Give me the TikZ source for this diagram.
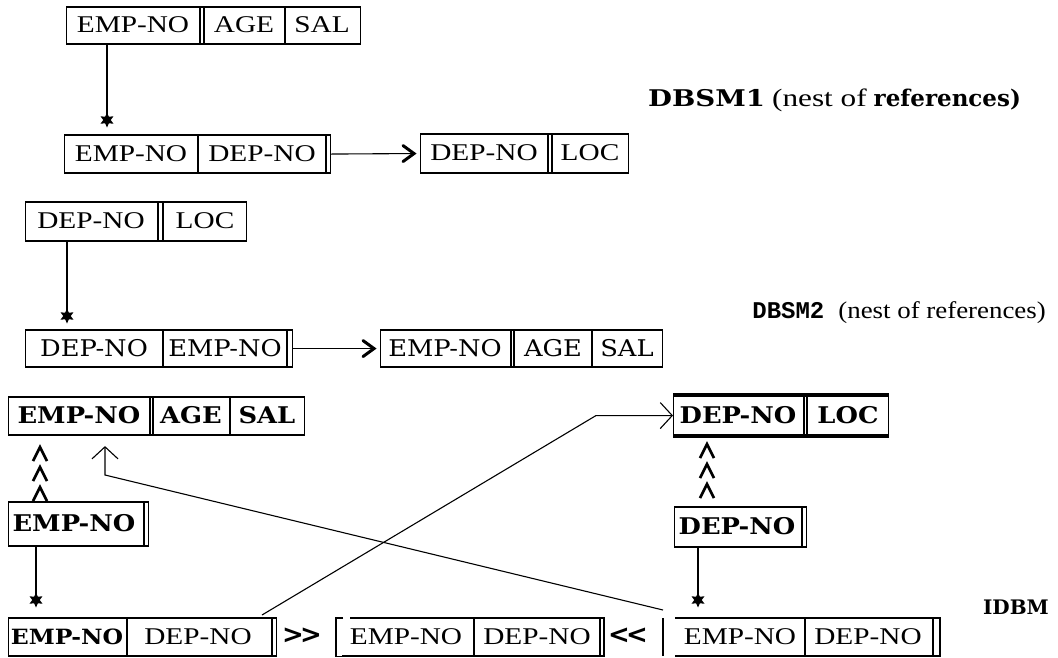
\documentclass[tikz,border=0pt]{standalone}
\usepackage{fontspec}
\usetikzlibrary{arrows.meta,shapes.geometric,calc}
\setmainfont{Liberation Serif}
\newfontfamily\tmf[FakeStretch=1.22]{Liberation Serif}
\newfontfamily\tmlab[FakeStretch=1.12]{Liberation Serif}
\newfontfamily\tmlabw[FakeStretch=1.25]{Liberation Serif}
\newfontfamily\csf[FakeStretch=1.12]{DejaVu Serif}
\newfontfamily\csl{DejaVu Serif}
\newfontfamily\cslw[FakeStretch=1.2]{DejaVu Serif}
\newfontfamily\monof{Liberation Mono}
\newfontfamily\sansb{DejaVu Sans}
\newcommand\cellbar[2]{\draw[divl] ($(#1.north west)+(#2,0)$) -- ($(#1.south west)+(#2,0)$);}
\newcommand\chevtip[1]{\draw[chevline] ($(#1)+(-17,-8)$) -- ($(#1)+(-6,0)$) -- ($(#1)+(-17,8)$);}
\tikzset{
 frame/.style={draw, line width=1.1pt, inner sep=0pt, anchor=north west},
 edge/.style={line width=2.2pt},
 divl/.style={line width=1.1pt},
 tt/.style={inner sep=0pt, font=\tmf\fontsize{24}{27}\selectfont},
 ct/.style={inner sep=0pt, font=\csf\fontsize{23}{26}\selectfont},
 cb/.style={inner sep=0pt, font=\csf\bfseries\fontsize{23}{26}\selectfont},
 conn/.style={line width=1.1pt},
 starm/.style={star, star points=6, star point ratio=2, fill=black, minimum size=15pt, inner sep=0pt},
 chevline/.style={line width=3pt, line cap=round, line join=miter},
 openarr/.style={conn, -{Straight Barb[length=12pt,width=26pt,line width=1.1pt]}},
 caret/.style={line width=2.6pt, line join=miter},
 chev/.style={inner sep=0pt, font=\sansb\bfseries\fontsize{26}{28}\selectfont},
 lab/.style={inner sep=0pt},
}
\begin{document}
\begin{tikzpicture}[x=1pt,y=-1pt]
\useasboundingbox (0,0) rectangle (1058,657);
% ---------- DBSM1 ----------
\node[frame, minimum width=294pt, minimum height=36pt] (A1) at (66,7) {};
\cellbar{A1}{134}\cellbar{A1}{138}\cellbar{A1}{219}
\node[tt] (a1a) at (133,25) {EMP-NO};
\node[tt] (a1b) at (244,25) {AGE};
\node[tt] (a1c) at (322,25) {SAL};
\node[starm] (s1) at (107,120) {};
\draw[conn] (A1.south -| s1) -- (s1.center);
\node[frame, minimum width=266pt, minimum height=37pt] (A2) at (64,135) {};
\cellbar{A2}{134}\cellbar{A2}{262}
\node[tt] (a2a) at (131,153.5) {EMP-NO};
\node[tt] (a2b) at (262,153.5) {DEP-NO};
\node[frame, minimum width=208pt, minimum height=38pt] (A3) at (420,134) {};
\cellbar{A3}{128}\cellbar{A3}{132}
\node[tt] (a3a) at (484,153) {DEP-NO};
\node[tt] (a3b) at (590,153) {LOC};
\draw[conn] (A2.east) -- ($(A3.west)+(-8,0)$);
\chevtip{A3.west}
\node[lab, anchor=west] (l1) at (648,100) {{\cslw\bfseries\fontsize{23}{26}\selectfont DBSM1}\hspace{7pt}{\tmlabw\fontsize{25}{28}\selectfont (nest of}\hspace{7pt}{\csl\bfseries\fontsize{23}{26}\selectfont references)}};
% ---------- DBSM2 ----------
\node[frame, minimum width=221pt, minimum height=38pt] (B1) at (25,202) {};
\cellbar{B1}{133}\cellbar{B1}{138}
\node[tt] (b1a) at (91,221) {DEP-NO};
\node[tt] (b1b) at (205,221) {LOC};
\node[starm] (s2) at (67,316) {};
\draw[conn] (B1.south -| s2) -- (s2.center);
\node[frame, minimum width=267pt, minimum height=36pt] (B2) at (25,330) {};
\cellbar{B2}{138}\cellbar{B2}{262}
\node[ct] (b2a) at (94,348) {DEP-NO};
\node[ct] (b2b) at (225,348) {EMP-NO};
\node[frame, minimum width=282pt, minimum height=36pt] (B3) at (380,330) {};
\cellbar{B3}{131}\cellbar{B3}{134}\cellbar{B3}{212}
\node[ct] (b3a) at (445,348) {EMP-NO};
\node[ct] (b3b) at (553,348) {AGE};
\node[ct] (b3c) at (627,348) {SAL};
\draw[conn] (B2.east) -- ($(B3.west)+(-8,0)$);
\chevtip{B3.west}
\node[lab, anchor=east] (l2) at (1046,313) {{\monof\bfseries\fontsize{24}{26}\selectfont DBSM2}\hspace{14pt}{\tmlab\fontsize{24}{27}\selectfont (nest of references)}};
% ---------- IDBM ----------
\node[frame, minimum width=296pt, minimum height=37pt] (C1) at (8,397) {};
\cellbar{C1}{142}\cellbar{C1}{145}\cellbar{C1}{222}
\node[cb] (c1a) at (79,415.5) {EMP-NO};
\node[cb] (c1b) at (191,415.5) {AGE};
\node[cb] (c1c) at (267,415.5) {SAL};
\node[frame, minimum width=140pt, minimum height=43pt] (C2) at (8,502) {};
\cellbar{C2}{136}
\node[cb] (c2a) at (74,523.5) {EMP-NO};
\foreach \dy in {12,32,52}
  \draw[caret] ($(C1.south west)+(25,\dy+14)$) -- ++(7,-14) -- ++(7,14);
\node[starm] (s3) at (36,600) {};
\draw[conn] (C2.south -| s3) -- (s3.center);
\node[frame, minimum width=268pt, minimum height=37pt] (C3) at (8,618) {};
\cellbar{C3}{119}\cellbar{C3}{264}
\node[cb, font=\csf\bfseries\fontsize{21}{24}\selectfont] (c3a) at (67,636.5) {EMP-NO};
\node[tt] (c3b) at (198,636.5) {DEP-NO};
\node[chev] (gg) at (302,636) {>\kern-4pt>};
% C4 with bracket
\node[frame, draw=none, minimum width=268pt, minimum height=37pt] (C4) at (336,618) {};
\draw[divl] ($(C4.north west)+(7,0)$) -- (C4.north west) -- (C4.south west) -- ++(7,0);
\draw[edge] ($(C4.north west)+(14,0)$) -- (C4.north east);
\draw[edge] ($(C4.south west)+(6,0)$) -- (C4.south east);
\cellbar{C4}{138}\cellbar{C4}{264}\cellbar{C4}{268}
\node[tt] (c4a) at (406,636.5) {EMP-NO};
\node[tt] (c4b) at (537,636.5) {DEP-NO};
\node[chev] (ll) at (628,636) {<\kern-4pt<};
% C5
\node[frame, draw=none, minimum width=277pt, minimum height=37pt] (C5) at (663,618) {};
\cellbar{C5}{0}
\draw[edge] ($(C5.north west)+(12,0)$) -- (C5.north east);
\draw[edge] ($(C5.south west)+(12,0)$) -- (C5.south east);
\cellbar{C5}{142}\cellbar{C5}{270}\cellbar{C5}{277}
\node[tt] (c5a) at (740,636.5) {EMP-NO};
\node[tt] (c5b) at (868,636.5) {DEP-NO};
\node[lab, anchor=east] (l3) at (1049,607) {\csl\bfseries\fontsize{20}{22}\selectfont IDBM};
% D1, D2
\node[frame, minimum width=215pt, minimum height=40pt] (D1) at (673,395) {};
\cellbar{D1}{131}\cellbar{D1}{134}
\draw[line width=3.6pt] (D1.north west) -- (D1.north east) (D1.south west) -- (D1.south east);
\node[cb] (d1a) at (738,415) {DEP-NO};
\node[cb] (d1b) at (848,415) {LOC};
\node[frame, minimum width=132pt, minimum height=39pt] (D2) at (674,507) {};
\cellbar{D2}{128}
\node[cb] (d2a) at (737,526.5) {DEP-NO};
\foreach \dy in {8,28,48}
  \draw[caret] ($(D1.south west)+(27,\dy+14)$) -- ++(7,-14) -- ++(7,14);
\node[starm] (s4) at (698,600) {};
\draw[conn] (D2.south -| s4) -- (s4.center);
% heavier top and bottom edges
\foreach \n in {A1,A2,A3,B1,B2,B3,C1,C2,C3,D2}
  \draw[edge] (\n.north west) -- (\n.north east) (\n.south west) -- (\n.south east);
% crossing connectors
\coordinate (k1) at (596,0);
\draw[openarr] ($(C3.north west)+(254,-3)$) -- (k1 |- D1.west) -- (D1.west);
\coordinate (k2) at (105,475);
\draw[openarr, shorten >=11pt] ($(C5.north west)+(0,-8)$) -- (k2) -- (k2 |- C1.south);
\end{tikzpicture}
\end{document}
